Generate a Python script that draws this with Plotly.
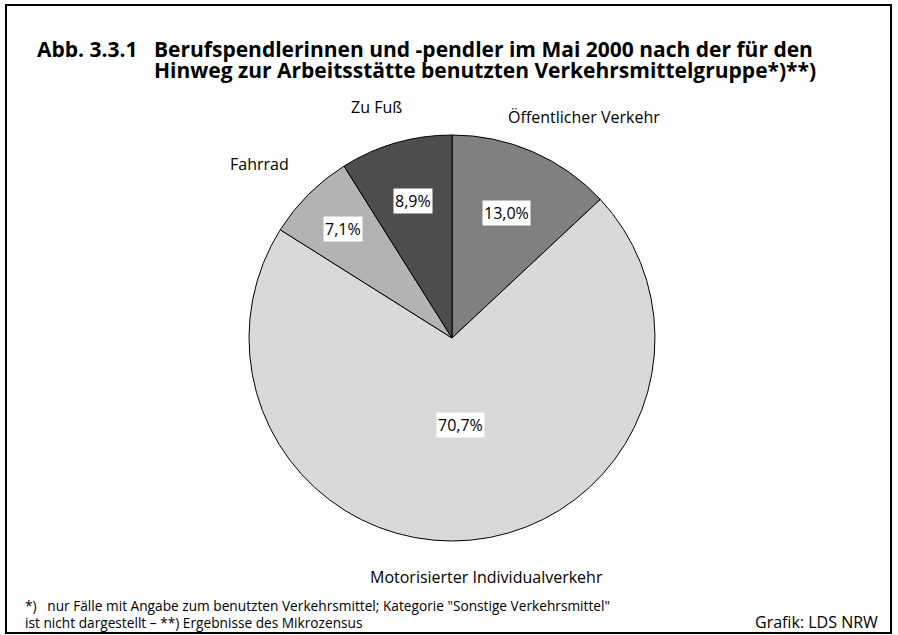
import math
import plotly.graph_objects as go

categories = ["Öffentlicher Verkehr", "Motorisierter Individualverkehr", "Fahrrad", "Zu Fuß"]
values = [13.0, 70.7, 7.1, 8.9]
value_labels = ["13,0%", "70,7%", "7,1%", "8,9%"]
colors = ["#808080", "#d9d9d9", "#b3b3b3", "#4d4d4d"]

W, H = 898, 635
cx, cy, R = 452, 338, 203

fig = go.Figure()
fig.add_trace(go.Pie(
    labels=categories, values=values, sort=False, direction="clockwise", rotation=0,
    marker=dict(colors=colors, line=dict(color="#000000", width=1)),
    textinfo="none", hoverinfo="label+value", showlegend=False,
    domain=dict(x=[(cx - R) / W, (cx + R) / W], y=[(H - cy - R) / H, (H - cy + R) / H]),
))

# label placement: value labels at a fraction of the radius along the slice's mid angle,
# category labels offset (pixels) from the slice's edge point
in_r = [0.67, 0.43, 0.76, 0.70]
out_shift = [(51, 35), (15, -37), (-49, 30), (-19, 36)]
total = sum(values)
annotations = []
acc = 0.0
for cat, v, vl, ri, (sx_, sy_) in zip(categories, values, value_labels, in_r, out_shift):
    mid = (acc + v / 2) / total * 2 * math.pi
    acc += v
    sx, sy = math.sin(mid), math.cos(mid)
    annotations.append(dict(
        x=(cx + ri * R * sx) / W, y=(H - cy + ri * R * sy) / H, xref="paper", yref="paper",
        xanchor="center", yanchor="middle",
        text=vl, showarrow=False, bgcolor="#ffffff", borderpad=1,
        font=dict(family="Open Sans", size=16, color="#000000"),
    ))
    annotations.append(dict(
        x=(cx + R * sx) / W, y=(H - cy + R * sy) / H, xref="paper", yref="paper",
        xanchor="center", yanchor="middle", xshift=sx_, yshift=sy_,
        text=cat, showarrow=False,
        font=dict(family="Open Sans", size=16, color="#000000"),
    ))

title_font = dict(family="Open Sans", size=21, color="#000000")
annotations.append(dict(x=35 / W, y=(H - 49) / H, xref="paper", yref="paper", xanchor="left", yanchor="middle",
                        text="<b>Abb. 3.3.1</b>", showarrow=False, font=title_font))
annotations.append(dict(x=152 / W, y=(H - 49) / H, xref="paper", yref="paper", xanchor="left", yanchor="middle",
                        text="<b>Berufspendlerinnen und -pendler im Mai 2000 nach der für den</b>",
                        showarrow=False, align="left", font=title_font))
annotations.append(dict(x=152 / W, y=(H - 70) / H, xref="paper", yref="paper", xanchor="left", yanchor="middle",
                        text="<b>Hinweg zur Arbeitsstätte benutzten Verkehrsmittelgruppe*)**)</b>",
                        showarrow=False, align="left", font=title_font))
foot_font = dict(family="Open Sans", size=13.7, color="#000000")
annotations.append(dict(x=23 / W, y=(H - 605) / H, xref="paper", yref="paper", xanchor="left", yanchor="middle",
                        text="*)   nur Fälle mit Angabe zum benutzten Verkehrsmittel; Kategorie \"Sonstige Verkehrsmittel\"",
                        showarrow=False, align="left", font=foot_font))
annotations.append(dict(x=23 / W, y=(H - 622) / H, xref="paper", yref="paper", xanchor="left", yanchor="middle",
                        text="ist nicht dargestellt – **) Ergebnisse des Mikrozensus",
                        showarrow=False, align="left", font=foot_font))
annotations.append(dict(x=880 / W, y=(H - 622) / H, xref="paper", yref="paper", xanchor="right", yanchor="middle",
                        text="Grafik: LDS NRW", showarrow=False, font=dict(family="Open Sans", size=16, color="#000000")))

fig.update_layout(
    width=W, height=H, margin=dict(l=0, r=0, t=0, b=0),
    paper_bgcolor="#ffffff", plot_bgcolor="#ffffff",
    annotations=annotations,
    shapes=[dict(type="rect", xref="paper", yref="paper", x0=6 / W, x1=891 / W, y0=(H - 633) / H, y1=(H - 5) / H,
                 line=dict(color="#000000", width=2))],
)
fig.write_html("out.html", config={"displayModeBar": False},
               post_script="document.body.style.margin='0';document.body.style.overflow='hidden';")
